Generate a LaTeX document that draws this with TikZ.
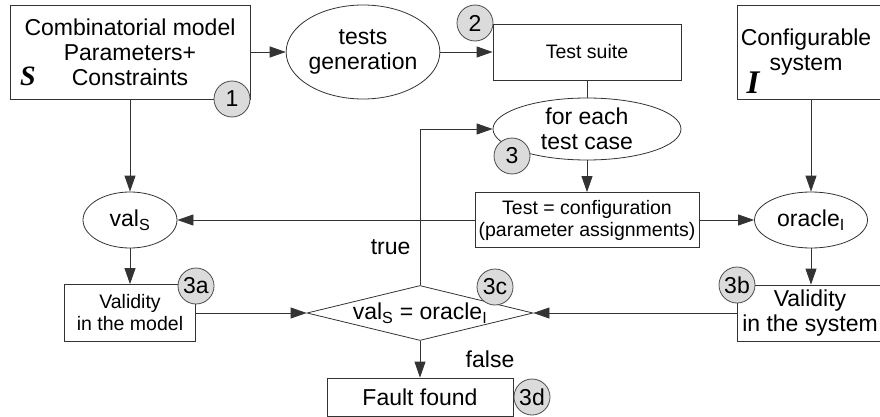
\documentclass[tikz,border=0pt]{standalone}
\usepackage{fontspec}
\setmainfont{Liberation Sans}
\newfontfamily\serifbi{Liberation Serif}
\usetikzlibrary{shapes.geometric,arrows.meta}
\newcommand{\bigtxt}{\fontsize{23}{25}\selectfont}
\newcommand{\smalltxt}{\fontsize{19.5}{22}\selectfont}
\newcommand{\symtxt}[1]{\fontsize{#1}{#1}\selectfont\serifbi\bfseries\itshape}
\tikzset{
    box/.style={draw=black!80, rectangle, line width=0.8pt, inner sep=0pt, align=center, font=\bigtxt},
    oval/.style={draw=black!80, ellipse, line width=0.8pt, inner sep=0pt, align=center, font=\bigtxt},
    badge/.style={draw=black!70, fill=black!14, circle, line width=0.8pt, minimum size=36pt, inner sep=0pt, font=\bigtxt},
    link/.style={draw=black!80, line width=0.8pt},
    flow/.style={link, -{Triangle[length=16pt,width=11pt]}},
}
\begin{document}
\begin{tikzpicture}[x=1pt, y=-1pt]
    \useasboundingbox (0,0) rectangle (880,417);
    \clip (0,0) rectangle (880,417);
        % top row
        \node[box, minimum width=240pt, minimum height=94pt] (model) at (130,52) {Combinatorial model\\Parameters+\\Constraints};
        \node[font=\symtxt{28}] (symS) at (28,76) {S};
        \node[oval, minimum width=150pt, minimum height=94pt] (gen) at (363,52) {tests\\generation};
        \node[box, font=\smalltxt, minimum width=188pt, minimum height=56pt] (suite) at (587,52) {Test suite};
        \node[box, minimum width=170pt, minimum height=94pt] (sys) at (822,52) {};
        \node[align=center, font=\bigtxt] (systxt) at (806,52) {Configurable\\system};
        \node[font=\symtxt{33}] (symI) at (753,83) {I};
        % middle
        \node[oval, minimum width=188pt, minimum height=62pt] (each) at (587,129) {for each\\test case};
        \node[box, font=\smalltxt, minimum width=224pt, minimum height=55pt] (conf) at (587,220) {Test = configuration\\(parameter assignments)};
        \node[oval, minimum width=94pt, minimum height=56pt] (valS) at (130,220) {val\textsubscript{S}};
        \node[oval, minimum width=113pt, minimum height=56pt] (orcI) at (811,220) {oracle\textsubscript{I}};
        % checks
        \node[box, font=\smalltxt, minimum width=131pt, minimum height=57pt] (chkM) at (130,313) {Validity\\in the model};
        \node[diamond, draw=black!80, line width=0.8pt, minimum width=226pt, minimum height=55pt, inner sep=0pt] (cmp) at (420,313) {};
        \node[font=\bigtxt] (cmptxt) at (cmp) {val\textsubscript{S} = oracle\textsubscript{I}};
        \node[box, minimum width=146pt, minimum height=56pt] (chkI) at (810,313) {Validity\\in the system};
        \node[box, minimum width=186pt, minimum height=38pt] (fault) at (420,397) {Fault found};
        \node[font=\bigtxt, anchor=east] (lblT) at (414,247) {true};
        \node[font=\bigtxt] (lblF) at (490,359) {false};
        % connectors
        \draw[flow] (model) -- (gen);
        \draw[flow] (gen) -- (suite);
        \draw[link] (suite) -- (each);
        \draw[flow] (each) -- (conf);
        \draw[flow] (conf) -- (valS);
        \draw[flow] (conf) -- (orcI);
        \draw[flow] (model) -- (valS);
        \draw[flow] (orcI |- sys.south) -- (orcI);
        \draw[flow] (valS) -- (chkM);
        \draw[flow] (orcI) -- (orcI |- chkI.north);
        \draw[flow] (chkM.east) -- (cmp.west);
        \draw[flow] (chkI.west) -- (cmp.east);
        \draw[flow] (cmp.north) |- (each.west);
        \draw[flow] (cmp) -- (fault);
        % step numbers
        \node[badge] (n1) at (232,99) {1};
        \node[badge] (n2) at (475,23) {2};
        \node[badge] (n3) at (512,156) {3};
        \node[badge] (n3a) at (196,286) {3a};
        \node[badge] (n3b) at (737,285) {3b};
        \node[badge] (n3c) at (495,287) {3c};
        \node[badge] (n3d) at (532,397) {3d};
\end{tikzpicture}
\end{document}
